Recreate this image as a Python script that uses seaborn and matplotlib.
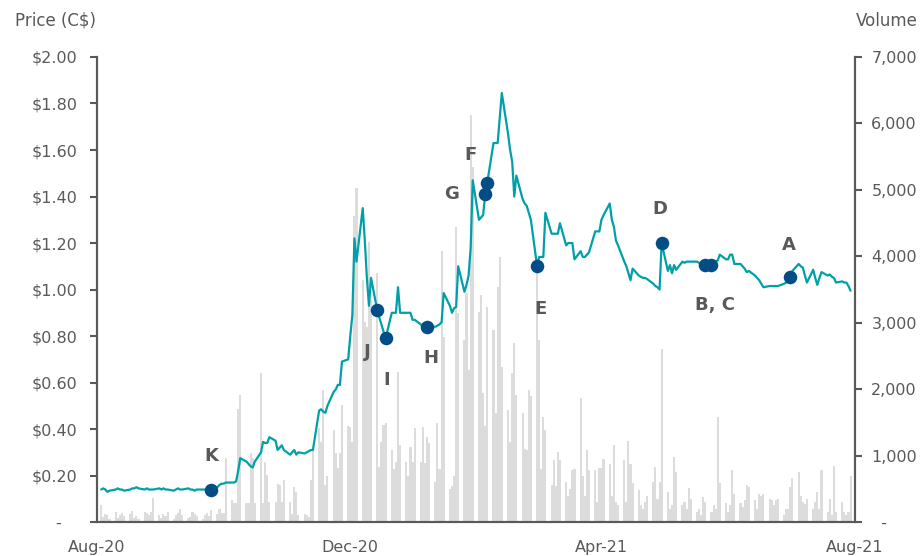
import numpy as np
import pandas as pd
import matplotlib
matplotlib.use("Agg")
import matplotlib.pyplot as plt
import matplotlib.dates as mdates
import seaborn as sns

# daily closing price (C$), one row per month of trading days
price_aug20 = [0.14, 0.145, 0.14, 0.13, 0.135, 0.14, 0.145, 0.14, 0.14, 0.135, 0.14, 0.145, 0.145, 0.15, 0.145, 0.14, 0.145, 0.14, 0.14, 0.14, 0.145]
price_sep20 = [0.14, 0.145, 0.14, 0.14, 0.135, 0.14, 0.145, 0.14, 0.14, 0.145, 0.14, 0.14, 0.135, 0.14, 0.14, 0.14, 0.135, 0.14, 0.14, 0.15, 0.16, 0.165]
price_oct20 = [0.165, 0.17, 0.17, 0.17, 0.175, 0.22, 0.275, 0.26, 0.25, 0.24, 0.235, 0.26, 0.30, 0.345, 0.34, 0.34, 0.365, 0.35, 0.31, 0.32, 0.33, 0.31]
price_nov20 = [0.29, 0.30, 0.31, 0.29, 0.30, 0.295, 0.30, 0.305, 0.31, 0.31, 0.48, 0.485, 0.475, 0.47, 0.50, 0.56, 0.57, 0.59, 0.59, 0.69, 0.70]
price_dec20 = [0.80, 0.89, 1.22, 1.12, 1.35, 1.21, 1.05, 0.93, 1.05, 0.91, 0.88, 0.85, 0.82, 0.79, 0.90, 0.90, 0.90, 1.01, 0.90, 0.90, 0.90, 0.90, 0.87]
price_jan21 = [0.87, 0.85, 0.84, 0.84, 0.84, 0.84, 0.84, 0.845, 0.85, 0.86, 0.985, 0.93, 0.90, 0.92, 0.925, 1.10, 0.99, 1.02, 1.06, 1.18, 1.47]
price_feb21 = [1.30, 1.31, 1.32, 1.41, 1.46, 1.63, 1.63, 1.63, 1.74, 1.845, 1.67, 1.60, 1.55, 1.40, 1.49, 1.39, 1.37, 1.36, 1.33, 1.30]
price_mar21 = [1.10, 1.14, 1.14, 1.14, 1.33, 1.24, 1.24, 1.24, 1.24, 1.285, 1.19, 1.20, 1.20, 1.20, 1.13, 1.165, 1.14, 1.14, 1.15, 1.16, 1.25, 1.25, 1.25]
price_apr21 = [1.30, 1.32, 1.37, 1.30, 1.27, 1.21, 1.19, 1.12, 1.10, 1.07, 1.04, 1.09, 1.06, 1.055, 1.05, 1.05, 1.045, 1.025, 1.015, 1.01, 1.00, 1.20]
price_may21 = [1.08, 1.105, 1.07, 1.105, 1.085, 1.12, 1.115, 1.12, 1.12, 1.12, 1.12, 1.115, 1.11, 1.105, 1.105, 1.105, 1.11, 1.12, 1.125, 1.15, 1.13]
price_jun21 = [1.13, 1.15, 1.15, 1.11, 1.11, 1.10, 1.09, 1.075, 1.08, 1.06, 1.05, 1.04, 1.025, 1.01, 1.015, 1.015, 1.015, 1.015, 1.015, 1.025, 1.03, 1.045]
price_jul21 = [1.055, 1.08, 1.11, 1.10, 1.095, 1.06, 1.03, 1.085, 1.05, 1.02, 1.05, 1.075, 1.06, 1.065, 1.055, 1.05, 1.03, 1.035, 1.03, 1.03, 1.015, 0.995]

# daily volume (thousands of shares)
vol_aug20 = [260, 80, 120, 100, 50, 150, 60, 100, 130, 90, 120, 160, 60, 90, 40, 150, 140, 110, 150, 360, 100]
vol_sep20 = [60, 120, 90, 150, 40, 100, 130, 200, 110, 60, 80, 150, 120, 90, 40, 110, 130, 90, 180, 120, 200, 130]
vol_oct20 = [130, 960, 330, 280, 280, 1700, 1910, 280, 280, 1040, 960, 280, 2240, 280, 900, 710, 300, 300, 580, 560, 300, 630]
vol_nov20 = [300, 120, 530, 450, 100, 120, 110, 80, 630, 1080, 1420, 1200, 1990, 560, 700, 1390, 1040, 810, 1040, 1760, 1440]
vol_dec20 = [1430, 1200, 4600, 5030, 3640, 3010, 2940, 4220, 3340, 3750, 830, 1200, 1460, 1490, 1090, 800, 900, 2260, 1160, 900, 700, 1130, 900]
vol_jan21 = [1420, 900, 1430, 890, 1280, 1190, 600, 1490, 800, 4080, 2790, 500, 550, 700, 4440, 3150, 2740, 3450, 2290, 6130, 5350]
vol_feb21 = [3160, 3420, 1950, 1440, 3240, 2890, 1640, 3540, 3990, 2330, 1690, 1200, 2240, 2700, 1910, 1640, 1100, 1090, 1990, 1900]
vol_mar21 = [3750, 2740, 800, 1580, 1390, 560, 930, 550, 1050, 930, 600, 400, 500, 780, 800, 1870, 700, 400, 1090, 780, 780, 300, 810]
vol_apr21 = [820, 950, 880, 400, 1160, 300, 250, 930, 300, 1220, 880, 590, 490, 250, 200, 300, 400, 600, 830, 350, 600, 2600]
vol_may21 = [450, 200, 250, 980, 760, 250, 300, 200, 510, 350, 150, 200, 100, 380, 300, 150, 250, 200, 1580, 590, 280]
vol_jun21 = [150, 250, 780, 430, 280, 230, 330, 560, 530, 330, 200, 430, 400, 430, 350, 330, 250, 330, 350, 100, 200, 200]
vol_jul21 = [530, 660, 760, 400, 300, 270, 350, 200, 300, 450, 200, 780, 150, 350, 100, 850, 150, 300, 150, 100, 150, 700]

# labelled events
event_labels = ["K", "J", "I", "H", "G", "F", "E", "D", "B", "C", "A"]
event_dates = ["2020-09-25", "2020-12-14", "2020-12-18", "2021-01-07", "2021-02-04", "2021-02-05",
               "2021-03-01", "2021-04-30", "2021-05-21", "2021-05-24", "2021-07-01"]

price_ticks = [0, 0.2, 0.4, 0.6, 0.8, 1.0, 1.2, 1.4, 1.6, 1.8, 2.0]
volume_ticks = [0, 1000, 2000, 3000, 4000, 5000, 6000, 7000]
date_ticks = ["2020-08-01", "2020-12-01", "2021-04-01", "2021-08-01"]

price = sum([price_aug20, price_sep20, price_oct20, price_nov20, price_dec20, price_jan21,
             price_feb21, price_mar21, price_apr21, price_may21, price_jun21, price_jul21], [])
volume = sum([vol_aug20, vol_sep20, vol_oct20, vol_nov20, vol_dec20, vol_jan21,
              vol_feb21, vol_mar21, vol_apr21, vol_may21, vol_jun21, vol_jul21], [])
dates = pd.bdate_range("2020-08-03", "2021-07-30")
df = pd.DataFrame({"date": dates, "price": price, "volume": volume})

ev = pd.DataFrame({"label": event_labels, "date": pd.to_datetime(event_dates)})
ev = ev.merge(df[["date", "price"]], on="date")

grey = "#595959"
teal = "#00A0A8"
navy = "#024D86"

sns.set_style("white")
plt.rcParams["font.family"] = ["DejaVu Sans"]

fig = plt.figure(figsize=(9.24, 5.56), dpi=100)
ax = fig.add_axes([0.105, 0.061, 0.82, 0.8365])
ax2 = ax.twinx()

# volume bars behind the price line
ax2.bar(df["date"], df["volume"], width=1.0, color="#DCDCDC", linewidth=0)
ax.set_zorder(ax2.get_zorder() + 1)
ax.patch.set_visible(False)

sns.lineplot(data=df, x="date", y="price", ax=ax, color=teal, linewidth=1.6)
sns.scatterplot(data=ev, x="date", y="price", ax=ax, color=navy, s=95, linewidth=0, zorder=5)

# label offsets in pixels from each dot
offsets = {"K": (0, 34), "J": (-10, -42), "I": (1, -42), "H": (4, -31), "G": (-34, 0),
           "F": (-17, 28), "E": (3, -43), "D": (-2, 34), "A": (-2, 32)}
for _, r in ev.iterrows():
    if r["label"] in offsets:
        dx, dy = offsets[r["label"]]
        ax.annotate(r["label"], (r["date"], r["price"]), xytext=(dx, dy), textcoords="offset pixels",
                    ha="center", va="center", fontsize=13, fontweight="bold", color=grey)
bc = ev[ev["label"] == "C"].iloc[0]
ax.annotate("B, C", (bc["date"], bc["price"]), xytext=(4, -40), textcoords="offset pixels",
            ha="center", va="center", fontsize=13, fontweight="bold", color=grey)

ax.set_xlim(pd.Timestamp("2020-08-01"), pd.Timestamp("2021-08-01"))
ax.set_ylim(0, 2.0)
ax2.set_ylim(0, 7000)
ax.set_xticks(pd.to_datetime(date_ticks))
ax.xaxis.set_major_formatter(mdates.DateFormatter("%b-%y"))
ax.set_yticks(price_ticks)
ax.set_yticklabels(["-   "] + [f"${v:.2f}" for v in price_ticks[1:]])
ax2.set_yticks(volume_ticks)
ax2.set_yticklabels(["  -"] + [f"{v:,}" for v in volume_ticks[1:]])
ax.set_xlabel("")
ax.set_ylabel("")

for a in (ax, ax2):
    a.spines["top"].set_visible(False)
    for s in ("left", "right", "bottom"):
        a.spines[s].set_color(grey)
        a.spines[s].set_linewidth(1.5)
    a.tick_params(colors=grey, labelsize=11.5, length=5, width=1.5, direction="out")
ax.tick_params(axis="y", pad=9)
ax.tick_params(axis="x", pad=8)
ax2.tick_params(axis="y", pad=7)

fig.text(0.016, 0.963, "Price (C$)", fontsize=12, color=grey, ha="left", va="center")
fig.text(0.993, 0.963, "Volume", fontsize=12, color=grey, ha="right", va="center")

fig.savefig("out.png", dpi=100)
